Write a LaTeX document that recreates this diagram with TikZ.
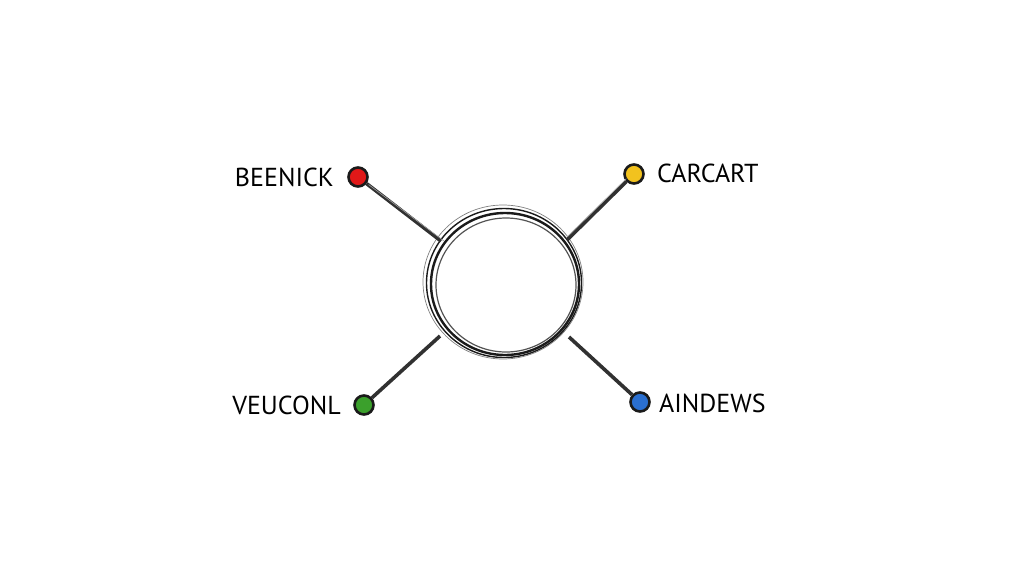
\documentclass[tikz,border=0pt]{standalone}
\usepackage{fontspec}
\setmainfont{PT Sans}
\definecolor{ink}{HTML}{1A1A1A}
\definecolor{dred}{HTML}{E01818}
\definecolor{dyellow}{HTML}{F2C21E}
\definecolor{dgreen}{HTML}{3BA02C}
\definecolor{dblue}{HTML}{2A6FD0}
\begin{document}
\begin{tikzpicture}[x=1pt,y=-1pt,
  dot/.style={circle,draw=ink,line width=2.6pt,minimum size=19pt,inner sep=0pt},
  lbl/.style={font=\fontsize{26}{28}\selectfont,text=black,inner sep=0pt},
  spoke/.style={draw=ink!90,line width=3.6pt},
  ring/.style={draw=ink,line width=1.4pt}]
\useasboundingbox[fill=white] (0,0) rectangle (1024,576);
\node[circle,minimum size=146pt,inner sep=0pt] (hub) at (505,284) {};
\draw[ring,line width=2.4pt] (505,284) ellipse (74 and 71);
\draw[ring] (504,283) ellipse (77.5 and 74.5);
\draw[ring,draw=ink!75,line width=1.2pt] (506,285) ellipse (70 and 67);
\draw[ring,draw=ink!55,line width=0.7pt] (503,282) ellipse (80 and 77);
\node[dot,fill=dred] (a) at (358,177) {};
\node[dot,fill=dyellow] (b) at (634,174) {};
\node[dot,fill=dgreen] (c) at (364,405) {};
\node[dot,fill=dblue] (d) at (640,402) {};
\coordinate (ha) at (441,241);
\coordinate (hb) at (567,240);
\coordinate (hc) at (440,336);
\coordinate (hd) at (569,337);
\draw[spoke] (a) -- (ha);
\draw[spoke] (b) -- (hb);
\draw[spoke] (c) -- (hc);
\draw[spoke] (d) -- (hd);
\draw[draw=ink!40,line width=0.6pt] ([xshift=3pt]a.south east) -- ([xshift=3pt]ha);
\draw[draw=ink!40,line width=0.6pt] ([yshift=3pt]b.south west) -- ([yshift=3pt]hb);
\node[lbl,anchor=east] (la) at (334,177) {BEENICK};
\node[lbl,anchor=west] (lb) at (657,173) {CARCART};
\node[lbl,anchor=east] (lc) at (341,405) {VEUCONL};
\node[lbl,anchor=west] (ld) at (659,403) {AINDEWS};
\end{tikzpicture}
\end{document}
